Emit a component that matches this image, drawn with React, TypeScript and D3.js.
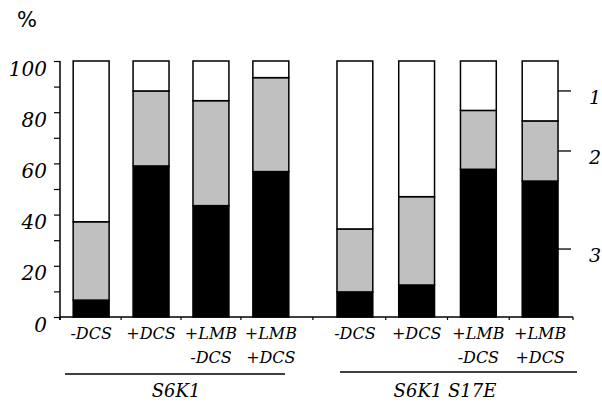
import React, { useEffect, useRef } from 'react';
import * as d3 from 'd3';

const leftCats = ['-DCS', '+DCS', '+LMB\n-DCS', '+LMB\n+DCS'];
const rightCats = ['-DCS ', '+DCS ', '+LMB\n-DCS ', '+LMB\n+DCS '];
const groupNames = ['S6K1', 'S6K1 S17E'];
// percent of cells, bottom to top
const blackPct = [6.6, 59, 43.5, 56.8, 9.8, 12.5, 57.7, 53.1];
const grayPct = [30.6, 29.3, 41, 36.7, 24.6, 34.5, 23, 23.5];
const yTicks = [0, 10, 20, 30, 40, 50, 60, 70, 80, 90, 100];
const markerLabels = ['1', '2', '3'];

const W = 602,
  H = 404;
const serif = '"DejaVu Serif", serif';

const YAxis = ({ y, x0 }) => {
  const ref = useRef(null);
  useEffect(() => {
    const axis = d3
      .axisLeft(y)
      .tickValues(yTicks)
      .tickSize(6)
      .tickFormat(d => (d % 20 === 0 ? String(d) : ''));
    const g = d3.select(ref.current);
    g.selectAll('*').remove();
    g.call(axis);
    g.select('.domain').attr('stroke', '#000').attr('stroke-width', 1.5).attr('d', `M0,${y(100)}V${y(0) + 3}`);
    g.selectAll('.tick line').attr('stroke', '#000').attr('stroke-width', 1.2);
    g.selectAll('.tick text')
      .attr('x', -13)
      .attr('dy', 14)
      .style('font-family', serif)
      .style('font-style', 'italic')
      .style('font-size', '20px')
      .style('fill', '#000');
  }, [y]);
  return <g ref={ref} transform={`translate(${x0},0)`} />;
};

export default function App() {
  const y = d3.scaleLinear().domain([0, 100]).range([317, 61]);
  const leftX = d3.scaleBand().domain(leftCats).range([60, 302]).paddingInner(0.4).paddingOuter(0.22);
  const rightX = d3.scaleBand().domain(rightCats).range([320, 575]).paddingInner(0.42).paddingOuter(0.275);

  const rows = [...leftCats, ...rightCats].map((c, i) => ({
    cat: c,
    black: blackPct[i],
    gray: grayPct[i],
    white: 100 - blackPct[i] - grayPct[i]
  }));
  const stack = d3.stack().keys(['black', 'gray', 'white'])(rows);
  const fills = { black: '#000', gray: '#c0c0c0', white: '#fff' };
  const xOf = (i: number) => (i < 4 ? leftX(leftCats[i]) : rightX(rightCats[i - 4]));
  const bw = leftX.bandwidth();
  const bwR = rightX.bandwidth();
  const bwOf = (i: number) => (i < 4 ? bw : bwR);

  // bottom axis ticks: start, midpoints between bars, end
  const axisEnd = 573;
  const xTicks = [60];
  for (let i = 0; i < rows.length - 1; i++) {
    xTicks.push((xOf(i) + bwOf(i) + xOf(i + 1)) / 2);
  }
  xTicks.push(axisEnd);

  // markers on right: segment midpoints of last bar
  const last = rows.length - 1;
  const markers = stack.map(s => (s[last][0] + s[last][1]) / 2).reverse();
  const lastRight = xOf(last) + bwR;

  const labelStyle = { fontFamily: serif, fontStyle: 'italic', fontSize: 16, fill: '#000' };

  return (
    <svg width={W} height={H} style={{ position: 'absolute', left: 0, top: 0, background: '#fff' }}>
      <text x={17} y={27} style={{ fontFamily: '"DejaVu Sans", sans-serif', fontSize: 21 }}>
        %
      </text>
      {stack.map(s => (
        <g key={s.key}>
          {s.map((d, i) => (
            <rect
              key={i}
              x={xOf(i)}
              y={y(d[1])}
              width={bwOf(i)}
              height={y(d[0]) - y(d[1])}
              fill={fills[s.key]}
              stroke="#000"
              strokeWidth={1.5}
            />
          ))}
        </g>
      ))}
      <YAxis y={y} x0={60} />
      <line x1={60} x2={axisEnd} y1={y(0)} y2={y(0)} stroke="#000" strokeWidth={1.5} />
      {xTicks.map((t, i) => (
        <line key={i} x1={t} x2={t} y1={y(0)} y2={y(0) + 3} stroke="#000" strokeWidth={1.2} />
      ))}
      {rows.map((r, i) =>
        r.cat
          .trim()
          .split('\n')
          .map((ln, j) => (
            <text key={`${i}-${j}`} x={xOf(i) + bwOf(i) / 2} y={339 + j * 24} textAnchor="middle" style={labelStyle}>
              {ln}
            </text>
          ))
      )}
      <line x1={leftX.range()[0] + 5} x2={leftX.range()[1] - 17} y1={374} y2={374} stroke="#000" strokeWidth={1.3} />
      <line x1={rightX.range()[0] + 20} x2={rightX.range()[1] + 2} y1={372} y2={372} stroke="#000" strokeWidth={1.3} />
      <text x={176} y={397} textAnchor="middle" style={{ ...labelStyle, fontSize: 18 }}>
        {groupNames[0]}
      </text>
      <text x={445} y={397} textAnchor="middle" style={{ ...labelStyle, fontSize: 18 }}>
        {groupNames[1]}
      </text>
      {markers.map((m, i) => (
        <g key={i}>
          <line x1={lastRight} x2={lastRight + 13} y1={y(m)} y2={y(m)} stroke="#000" strokeWidth={1.3} />
          <text x={589} y={y(m) + 13} style={{ fontFamily: serif, fontStyle: 'italic', fontSize: 19 }}>
            {markerLabels[i]}
          </text>
        </g>
      ))}
    </svg>
  );
}
